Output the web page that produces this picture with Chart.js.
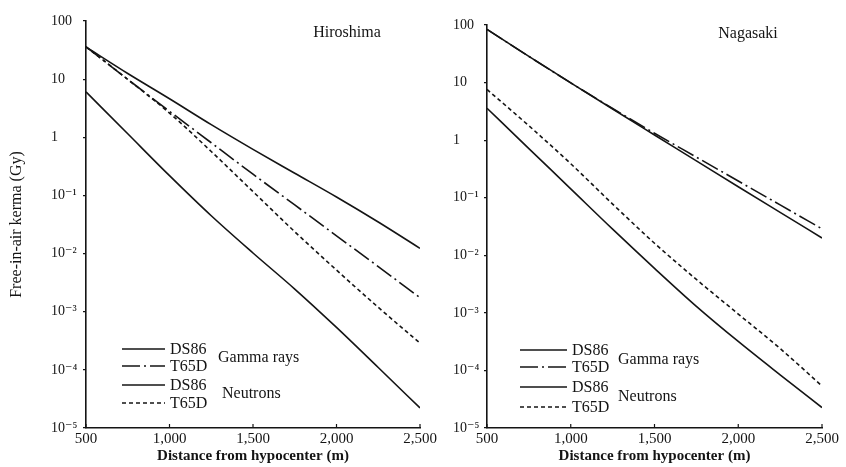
<!DOCTYPE html>
<html><head><meta charset="utf-8">
<script src="https://cdn.jsdelivr.net/npm/chart.js@4.4.1/dist/chart.umd.min.js"></script>
<style>
html,body{margin:0;padding:0;background:#fff;}
#wrap{position:relative;width:846px;height:467px;overflow:hidden;background:#fff;}
.box{position:absolute;top:0;height:467px;}
</style></head><body>
<div id="wrap">
  <div class="box" style="left:0;width:446px"><canvas id="c1"></canvas></div>
  <div class="box" style="left:446px;width:400px"><canvas id="c2"></canvas></div>
</div>
<script>
// ---------- data ----------
const distances = [500, 750, 1000, 1250, 1500, 1750, 2000, 2250, 2500];
const xTickValues = [500, 1000, 1500, 2000, 2500];
const xTickLabels = ['500', '1,000', '1,500', '2,000', '2,500'];
const yTickValues = [1e-5, 1e-4, 1e-3, 1e-2, 1e-1, 1, 10, 100];
const yTickLabels = ['10⁻⁵', '10⁻⁴', '10⁻³', '10⁻²', '10⁻¹', '1', '10', '100'];

const hiroGammaDS86   = [35.7, 12.5, 4.6, 1.65, 0.62, 0.241, 0.094, 0.0349, 0.0123];
const hiroGammaT65D   = [36, 9.9, 2.8, 0.805, 0.232, 0.0686, 0.0202, 0.00597, 0.00174];
const hiroNeutronDS86 = [6.03, 1.148, 0.2188, 0.04467, 0.01023, 0.002455, 0.000537, 0.0001096, 0.0000221];
const hiroNeutronT65D = [36, 9.9, 2.61, 0.57, 0.1164, 0.02377, 0.0052, 0.00119, 0.000288];

const nagaGammaDS86   = [84.1, 28.5, 9.89, 3.47, 1.23, 0.437, 0.155, 0.0556, 0.02];
const nagaGammaT65D   = [84.1, 28.5, 9.89, 3.55, 1.318, 0.507, 0.195, 0.075, 0.0288];
const nagaNeutronDS86 = [3.58, 0.714, 0.1426, 0.02844, 0.00594, 0.0013, 0.000319, 0.0000839, 0.0000226];
const nagaNeutronT65D = [7.59, 1.778, 0.389, 0.0776, 0.0162, 0.0038, 0.000955, 0.00024, 0.0000537];

const seriesNames = ['DS86', 'T65D', 'DS86', 'T65D'];
const groupNames = ['Gamma rays', 'Neutrons'];
const panelTitles = ['Hiroshima', 'Nagasaki'];
const xTitle = 'Distance from hypocenter (m)';
const yTitle = 'Free-in-air kerma (Gy)';

// ---------- styles ----------
const INK = '#141414';
const SERIF = "'Liberation Serif', 'DejaVu Serif', 'Times New Roman', serif";
const DASHES = [[], [18, 4, 2, 4], [], [4, 3]];

function pts(arr) { return distances.map((d, i) => ({ x: d, y: arr[i] })); }

function makeDatasets(list) {
  return list.map((arr, i) => ({
    label: seriesNames[i],
    data: pts(arr),
    borderColor: INK,
    borderWidth: 1.6,
    borderDash: DASHES[i],
    pointRadius: 0,
    fill: false,
    cubicInterpolationMode: 'monotone'
  }));
}

function decor(cfg) {
  return {
    id: 'decor',
    afterDraw(chart) {
      const ctx = chart.ctx, xs = chart.scales.x;
      const L = chart.chartArea.left, B = chart.chartArea.bottom, T = chart.chartArea.top;
      ctx.save();
      // inward x tick marks
      ctx.strokeStyle = INK; ctx.lineWidth = 1.2; ctx.setLineDash([]);
      xTickValues.forEach(v => {
        const px = xs.getPixelForValue(v);
        ctx.beginPath(); ctx.moveTo(px, B); ctx.lineTo(px, B - 4); ctx.stroke();
      });
      // panel title
      ctx.fillStyle = INK;
      ctx.font = '16px ' + SERIF;
      ctx.textAlign = 'center'; ctx.textBaseline = 'middle';
      ctx.fillText(cfg.title, L + cfg.titleDx, T + cfg.titleDy);
      // legend
      ctx.font = '16px ' + SERIF;
      ctx.textAlign = 'left';
      cfg.rows.forEach((dy, i) => {
        const yy = B - dy;
        ctx.beginPath();
        ctx.setLineDash(DASHES[i]);
        ctx.lineWidth = 1.5;
        ctx.moveTo(L + cfg.sx0, yy); ctx.lineTo(L + cfg.sx1, yy); ctx.stroke();
        ctx.setLineDash([]);
        ctx.fillText(seriesNames[i], L + cfg.tx, yy + 1);
      });
      ctx.fillText(groupNames[0], L + cfg.gx, B - cfg.g1);
      ctx.fillText(groupNames[1], L + cfg.gx + cfg.g2dx, B - cfg.g2);
      // y title
      if (cfg.yTitle) {
        ctx.save();
        ctx.translate(17, (T + B) / 2);
        ctx.rotate(-Math.PI / 2);
        ctx.font = '16px ' + SERIF;
        ctx.textAlign = 'center'; ctx.textBaseline = 'middle';
        ctx.fillText(cfg.yTitle, 0, 0);
        ctx.restore();
      }
      ctx.restore();
    }
  };
}

function makeChart(id, list, pad, yWidth, cfg) {
  return new Chart(document.getElementById(id), {
    type: 'line',
    data: { datasets: makeDatasets(list) },
    options: {
      responsive: true,
      maintainAspectRatio: false,
      animation: false,
      layout: { padding: pad },
      plugins: { legend: { display: false }, tooltip: { enabled: false } },
      scales: {
        x: {
          type: 'linear', min: 500, max: 2500,
          afterBuildTicks: s => { s.ticks = xTickValues.map(v => ({ value: v })); },
          afterFit: s => { s.height = 39; },
          grid: { display: false, drawTicks: false },
          border: { display: true, color: INK, width: 1.6 },
          ticks: {
            autoSkip: false, maxRotation: 0, padding: 2, color: INK,
            font: { family: SERIF, size: 15 },
            callback: (v) => xTickLabels[xTickValues.indexOf(v)]
          },
          title: {
            display: true, text: xTitle, color: INK,
            font: { family: SERIF, size: 15, weight: 'bold' },
            padding: { top: 0, bottom: 2 }
          }
        },
        y: {
          type: 'logarithmic', min: 1e-5, max: 100,
          afterBuildTicks: s => { s.ticks = yTickValues.map(v => ({ value: v })); },
          afterFit: s => { s.width = yWidth; },
          grid: { display: true, drawOnChartArea: false, drawTicks: true, tickLength: 3, color: INK, lineWidth: 1.2 },
          border: { display: true, color: INK, width: 1.6 },
          ticks: {
            autoSkip: false, crossAlign: 'far', padding: 1, color: INK,
            font: { family: SERIF, size: 14 },
            callback: (v) => {
              const i = yTickValues.findIndex(t => Math.abs(Math.log10(t) - Math.log10(v)) < 1e-6);
              return i >= 0 ? yTickLabels[i] : '';
            }
          }
        }
      }
    },
    plugins: [decor(cfg)]
  });
}

makeChart('c1', [hiroGammaDS86, hiroGammaT65D, hiroNeutronDS86, hiroNeutronT65D],
  { left: 51, right: 26, top: 21, bottom: 0 }, 35,
  { title: panelTitles[0], titleDx: 261, titleDy: 12,
    rows: [79, 62, 43, 25], sx0: 36, sx1: 79, tx: 84, gx: 132, g1: 70, g2dx: 4, g2: 34,
    yTitle: yTitle });

makeChart('c2', [nagaGammaDS86, nagaGammaT65D, nagaNeutronDS86, nagaNeutronT65D],
  { left: 7, right: 24, top: 25, bottom: 0 }, 34,
  { title: panelTitles[1], titleDx: 261, titleDy: 9,
    rows: [78, 61, 41, 21], sx0: 33, sx1: 80, tx: 85, gx: 131, g1: 68, g2dx: 0, g2: 31,
    yTitle: null });
</script>
</body></html>
